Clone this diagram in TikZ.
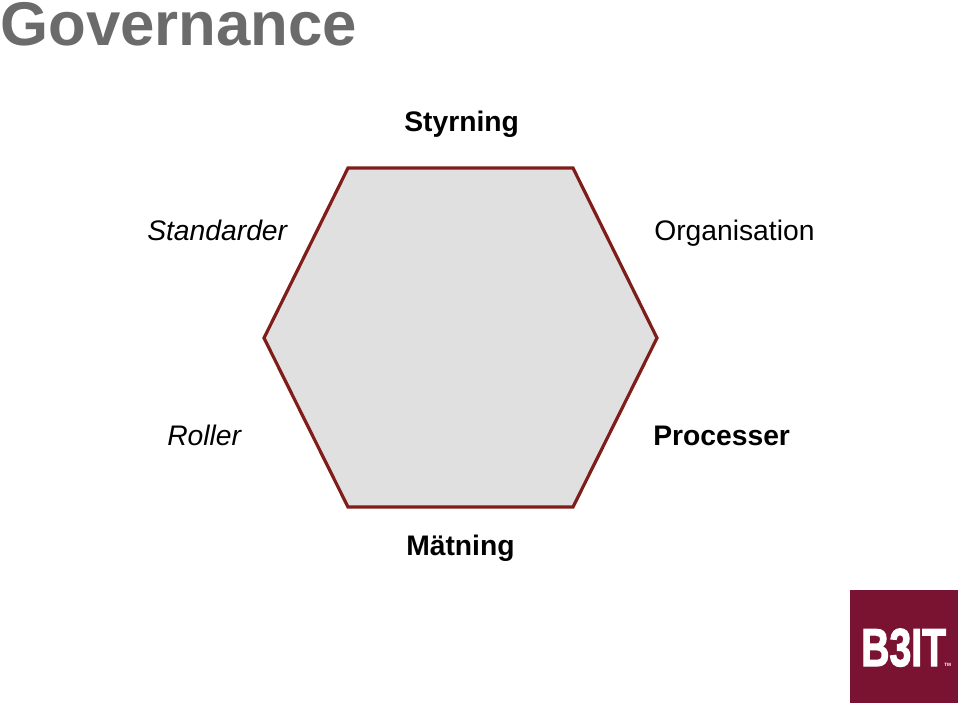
\documentclass[tikz,border=0pt]{standalone}
\usepackage{fontspec}
\setmainfont{Liberation Sans}
\newfontfamily\logofont[BoldFeatures={FakeBold=2.5}]{Liberation Sans}
\definecolor{hexline}{HTML}{7F1D1A}
\definecolor{hexfill}{HTML}{E0E0E0}
\definecolor{logored}{HTML}{7A1232}
\definecolor{titlegray}{HTML}{6B6B6B}
\tikzset{
  label/.style={anchor=base west, inner sep=0pt, font=\fontsize{21.2}{26}\selectfont},
  strong/.style={label, font=\fontsize{21.2}{26}\selectfont\bfseries},
  slanted/.style={label, font=\fontsize{21.2}{26}\selectfont\itshape}
}
\begin{document}
\begin{tikzpicture}[x=0.75pt, y=-0.75pt]
            \useasboundingbox (0, 0) rectangle (960, 707);

            %corners
            \coordinate (nw) at (348, 168);
            \coordinate (ne) at (573, 168);
            \coordinate (e) at (657, 338);
            \coordinate (se) at (573, 507);
            \coordinate (sw) at (348, 507);
            \coordinate (w) at (264, 338);

            %hexagon
            \draw[hexline, fill=hexfill, line width=2.4pt, line join=miter] (nw) -- (ne) -- (e) -- (se) -- (sw) -- (w) -- cycle;

            %nodes
            \node[anchor=base west, inner sep=0pt, text=titlegray, font=\fontsize{46.3}{50}\selectfont\bfseries] (title) at (0, 45.5) {Governance};
            \node[strong] (styrning) at (404, 131.3) {Styrning};
            \node[slanted] (standarder) at (147, 240.5) {Standarder};
            \node[label] (organisation) at (654, 240.5) {Organisation};
            \node[slanted] (roller) at (167, 445) {Roller};
            \node[strong] (processer) at (653, 445) {Processer};
            \node[strong] (matning) at (406, 555.3) {Mätning};

            %logo
            \fill[logored] (850, 590) rectangle (958, 703);
            \node[anchor=base west, inner sep=0pt, text=white, xscale=0.735, transform shape, font=\fontsize{40}{44}\selectfont\logofont\bfseries] (logo) at (861, 666) {B3IT};
            \node[anchor=base west, inner sep=0pt, text=white, font=\fontsize{3.5}{4}\selectfont\bfseries] (tm) at (944, 666) {TM};
        \end{tikzpicture}
\end{document}
